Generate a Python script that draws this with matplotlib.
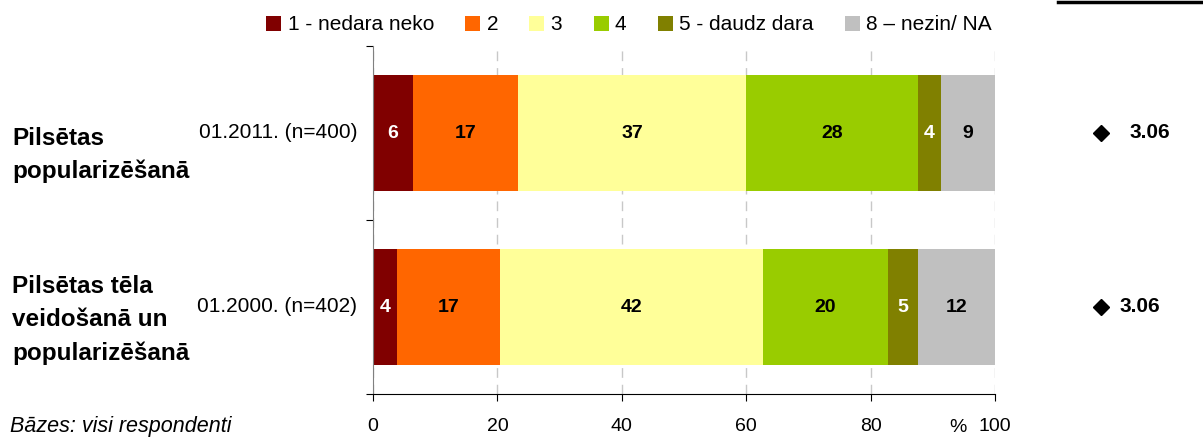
import matplotlib.pyplot as plt
import numpy as np

plt.rcParams['font.family'] = ['Liberation Sans', 'DejaVu Sans']

# data
legend_labels = ['1 - nedara neko', '2', '3', '4', '5 - daudz dara', '8 – nezin/ NA']
colors = ['#800000', '#ff6600', '#ffff99', '#99cc00', '#808000', '#c0c0c0']
label_colors = ['white', 'black', 'black', 'black', 'white', 'black']
topics = ['Pilsētas\npopularizēšanā', 'Pilsētas tēla\nveidošanā un\npopularizēšanā']
waves = ['01.2011. (n=400)', '01.2000. (n=402)']
top_vals = [6.4, 16.9, 36.7, 27.6, 3.7, 8.7]
bottom_vals = [3.9, 16.5, 42.3, 20.1, 4.8, 12.4]
shown_top = [6, 17, 37, 28, 4, 9]
shown_bottom = [4, 17, 42, 20, 5, 12]
means = [3.06, 3.06]

vals = np.array([top_vals, bottom_vals])
shown = [shown_top, shown_bottom]
ypos = [1, 0]

fig = plt.figure(figsize=(12.03, 4.38), dpi=100)
ax = fig.add_axes([373 / 1203, 1 - 394 / 438, 622 / 1203, 348 / 438])

for i in range(2):
    left = 0
    for j in range(6):
        ax.barh(ypos[i], vals[i, j], left=left, height=0.67, color=colors[j],
                label=legend_labels[j] if i == 0 else None, zorder=2)
        ax.text(left + vals[i, j] / 2, ypos[i], str(shown[i][j]), ha='center', va='center',
                fontsize=14, fontweight='bold', color=label_colors[j], zorder=3)
        left += vals[i, j]

# mean score markers to the right of the bars
ax.plot([117, 117], ypos, 'D', color='black', markersize=8.5, clip_on=False)
ax.text(121.7, ypos[0], f'{means[0]:.2f}', ha='left', va='center', fontsize=15,
        fontweight='bold')
ax.text(120.0, ypos[1], f'{means[1]:.2f}', ha='left', va='center', fontsize=15,
        fontweight='bold')

ax.set_xlim(0, 100)
ax.set_ylim(-0.5, 1.5)
ax.set_xticks([0, 20, 40, 60, 80, 100])
ax.set_xticklabels(['0', '20', '40', '60', '80', '100'], fontsize=14)
ax.tick_params(axis='x', length=5, pad=12)
ax.set_yticks([1.5, 0.5, -0.5])
ax.set_yticklabels([])
ax.tick_params(axis='y', length=5, color='black')
ax.grid(axis='x', linestyle=(0, (7, 5)), color='#c8c8c8', linewidth=1, zorder=0)
for s in ['top', 'right']:
    ax.spines[s].set_visible(False)
ax.spines['left'].set_color('#808080')

for i in range(2):
    ax.text(-2.5, ypos[i], waves[i], ha='right', va='center', fontsize=15)
fig.text(12 / 1203, 1 - 155 / 438, topics[0], ha='left', va='center', fontsize=17.5,
         fontweight='bold', linespacing=1.55)
fig.text(12 / 1203, 1 - 320 / 438, topics[1], ha='left', va='center', fontsize=17.5,
         fontweight='bold', linespacing=1.55)

fig.text(10 / 1203, 1 - 437 / 438, 'Bāzes: visi respondenti', ha='left', va='bottom',
         fontsize=15.5, style='italic')
fig.text(958 / 1203, 1 - 428 / 438, '%', ha='center', va='center', fontsize=14)

ax.legend(loc='center', bbox_to_anchor=(629 / 1203, 1 - 25 / 438),
          bbox_transform=fig.transFigure, ncol=6, frameon=False, fontsize=15,
          handlelength=0.72, handleheight=0.7, handletextpad=0.3, columnspacing=1.5)

fig.add_artist(plt.Line2D([1058 / 1203, 1], [1 - 2 / 438, 1 - 2 / 438], color='black',
                          linewidth=2.5, transform=fig.transFigure))

fig.savefig('out.png', dpi=100)
